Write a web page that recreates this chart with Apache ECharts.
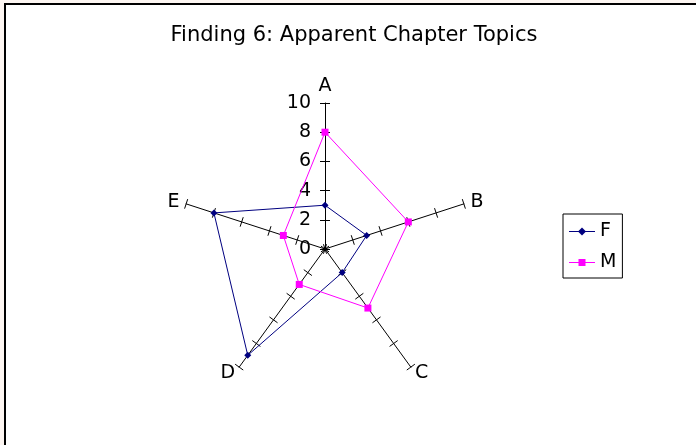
<!DOCTYPE html>
<html>
<head>
<meta charset="utf-8">
<script src="https://cdn.jsdelivr.net/npm/echarts@6/dist/echarts.min.js"></script>
<style>
  html, body { margin: 0; padding: 0; background: #fdf6f2; }
  #chart { width: 696px; height: 445px; }
</style>
</head>
<body>
<div id="chart"></div>
<script>
// chart data
const topics = ['A', 'B', 'C', 'D', 'E'];
const maxValue = 10;
const valuesF = [3, 3, 2, 9, 8];
const valuesM = [8, 6, 5, 3, 3];

const chartDom = document.getElementById('chart');
const myChart = echarts.init(chartDom);

const font = 'DejaVu Sans';
const center = [325, 249];
const radius = 146;

// echarts lays radar axes out counter-clockwise, the original goes clockwise
const order = [0, 4, 3, 2, 1];
const clockwise = arr => order.map(i => arr[i]);

// first indicator (A) carries the value labels, the others don't
const indicators = clockwise(topics).map(name => ({
  name: name,
  min: 0,
  max: maxValue,
  axisLabel: { show: name === topics[0] }
}));

// legend icons: thin line with the marker in the middle
const iconF = 'path://M0,4.5L26,4.5L26,5.5L0,5.5Z M13,1L17,5L13,9L9,5Z';
const iconM = 'path://M0,4.5L26,4.5L26,5.5L0,5.5Z M9.5,1.5L16.5,1.5L16.5,8.5L9.5,8.5Z';

const option = {
  animation: false,
  backgroundColor: '#ffffff',
  title: {
    text: 'Finding 6: Apparent Chapter Topics',
    left: 349,
    textAlign: 'center',
    top: 20,
    textStyle: {
      fontFamily: font,
      fontSize: 21,
      fontWeight: 'normal',
      color: '#000'
    }
  },
  legend: {
    orient: 'vertical',
    left: 563,
    top: 214,
    itemWidth: 26,
    itemHeight: 10,
    itemGap: 12,
    padding: [8, 6, 6, 6],
    borderColor: '#000',
    borderWidth: 1,
    textStyle: { fontFamily: font, fontSize: 19, color: '#000' },
    data: [
      { name: 'F', icon: iconF },
      { name: 'M', icon: iconM }
    ]
  },
  graphic: [
    { type: 'rect', shape: { x: 0, y: 0, width: 696, height: 3 }, style: { fill: '#fdf6f2' } },
    { type: 'rect', shape: { x: 0, y: 0, width: 4, height: 445 }, style: { fill: '#fdf6f2' } },
    { type: 'rect', shape: { x: 4, y: 3, width: 692, height: 2 }, style: { fill: '#000' } },
    { type: 'rect', shape: { x: 4, y: 3, width: 2, height: 442 }, style: { fill: '#000' } }
  ],
  radar: [
    {
      center: center,
      radius: radius,
      startAngle: 90,
      splitNumber: 5,
      shape: 'polygon',
      indicator: indicators,
      axisName: {
        color: '#000',
        fontFamily: font,
        fontSize: 19
      },
      nameGap: 7,
      axisLine: { lineStyle: { color: '#000', width: 1 } },
      axisTick: { show: true, length: 5, lineStyle: { color: '#000' } },
      axisLabel: {
        show: false,
        color: '#000',
        fontFamily: font,
        fontSize: 19,
        margin: 14
      },
      splitLine: { show: false },
      splitArea: { show: false }
    },
    {
      // second copy only for ticks on the other side of each spoke
      center: center,
      radius: radius,
      startAngle: 90,
      splitNumber: 5,
      indicator: topics.map(() => ({ name: '', min: 0, max: maxValue })),
      axisName: { show: false },
      axisLine: { show: false },
      axisTick: { show: true, length: -5, lineStyle: { color: '#000' } },
      axisLabel: { show: false },
      splitLine: { show: false },
      splitArea: { show: false }
    }
  ],
  series: [
    {
      type: 'radar',
      radarIndex: 0,
      data: [
        {
          name: 'F',
          value: clockwise(valuesF),
          symbol: 'diamond',
          symbolSize: 7,
          lineStyle: { color: '#000080', width: 1 },
          itemStyle: { color: '#000080' }
        },
        {
          name: 'M',
          value: clockwise(valuesM),
          symbol: 'rect',
          symbolSize: 7,
          lineStyle: { color: '#ff00ff', width: 1 },
          itemStyle: { color: '#ff00ff' }
        }
      ]
    }
  ]
};

myChart.setOption(option);

window.addEventListener('resize', () => {
  myChart.resize();
});
</script>
</body>
</html>
